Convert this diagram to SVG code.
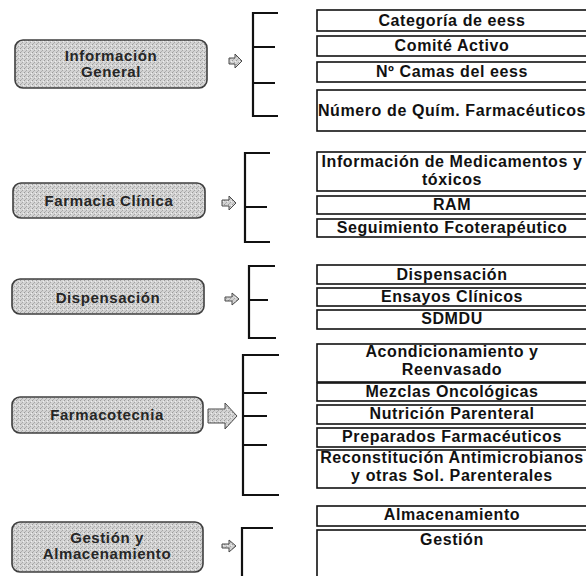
<svg xmlns="http://www.w3.org/2000/svg" width="586" height="576" viewBox="0 0 586 576">
<defs>
<pattern id="stipple" width="4" height="4" patternUnits="userSpaceOnUse">
<rect width="4" height="4" fill="#d3d3d3"/>
<rect x="0" y="0" width="1" height="1" fill="#9a9a9a"/>
<rect x="2" y="2" width="1" height="1" fill="#a6a6a6"/>
<rect x="3" y="1" width="1" height="1" fill="#efefef"/>
<rect x="1" y="3" width="1" height="1" fill="#b0b0b0"/>
</pattern>
</defs>
<style>
.bg{fill:#ffffff}
.node rect{fill:url(#stipple);stroke:#3f3f3f;stroke-width:1.6}
.node text{font-family:"Liberation Sans",Arial,sans-serif;font-weight:bold;font-size:15px;fill:#262626;text-anchor:middle;letter-spacing:0.6px}
.item rect{fill:#ffffff;stroke:#111;stroke-width:1.6}
.item text{font-family:"Liberation Sans",Arial,sans-serif;font-weight:bold;font-size:16px;fill:#111;text-anchor:middle;letter-spacing:0.6px}
.br{fill:none;stroke:#111;stroke-width:2.2}
.arr{fill:url(#stipple);stroke:#4a4a4a;stroke-width:1}
</style>
<rect class="bg" x="0" y="0" width="586" height="576"/>

<g id="n-info" class="node">
<rect x="15" y="40" width="192" height="48" rx="8"/>
<text x="111" y="61">Información</text>
<text x="111" y="77">General</text>
</g>
<g id="n-farmacia" class="node">
<rect x="13" y="183" width="192" height="35" rx="8"/>
<text x="109" y="206">Farmacia Clínica</text>
</g>
<g id="n-dispensacion" class="node">
<rect x="12" y="279" width="192" height="35" rx="8"/>
<text x="108" y="303">Dispensación</text>
</g>
<g id="n-farmacotecnia" class="node">
<rect x="12" y="397" width="191" height="36" rx="8"/>
<text x="107" y="420">Farmacotecnia</text>
</g>
<g id="n-gestion" class="node">
<rect x="12" y="522" width="191" height="50" rx="8"/>
<text x="107" y="543">Gestión y</text>
<text x="107" y="559">Almacenamiento</text>
</g>

<g id="connectors">
<path class="arr" d="M229,58 h6 v-4 l7,7 l-7,7 v-4 h-6 z"/>
<path class="arr" d="M222,200 h7 v-4 l7,7 l-7,7 v-4 h-7 z"/>
<path class="arr" d="M225,297 h7 v-4 l7,6 l-7,6 v-4 h-7 z"/>
<path class="arr" d="M208,409 h17 v-6 l12,13 l-12,13 v-6 h-17 z"/>
<path class="arr" d="M222,544 h7 v-4 l7,6 l-7,6 v-4 h-7 z"/>

<path class="br" d="M278,13 H253 V116 H278 M253,47 H275 M253,83 H275"/>
<path class="br" d="M270,153 H245 V242 H270 M245,207 H267"/>
<path class="br" d="M275,266 H249 V338 H276 M249,300 H268"/>
<path class="br" d="M279,355 H243 V495 H279 M243,393 H267 M243,416 H267 M243,445 H267"/>
<path class="br" d="M273,528 H242 V580"/>
</g>

<g id="i1" class="item"><rect x="317" y="10" width="274" height="21"/><text x="452" y="26">Categoría de eess</text></g>
<g id="i2" class="item"><rect x="317" y="36" width="274" height="20"/><text x="452" y="51">Comité Activo</text></g>
<g id="i3" class="item"><rect x="317" y="62" width="274" height="20"/><text x="452" y="77">Nº Camas del eess</text></g>
<g id="i4" class="item"><rect x="317" y="90" width="274" height="41"/><text x="452" y="116">Número de Quím. Farmacéuticos</text></g>
<g id="i5" class="item"><rect x="317" y="152" width="274" height="39"/><text x="452" y="167">Información de Medicamentos y</text><text x="452" y="185">tóxicos</text></g>
<g id="i6" class="item"><rect x="317" y="196" width="274" height="18"/><text x="452" y="210">RAM</text></g>
<g id="i7" class="item"><rect x="317" y="219" width="274" height="18"/><text x="452" y="233">Seguimiento Fcoterapéutico</text></g>
<g id="i8" class="item"><rect x="317" y="265" width="274" height="19"/><text x="452" y="280">Dispensación</text></g>
<g id="i9" class="item"><rect x="317" y="288" width="274" height="18"/><text x="452" y="302">Ensayos Clínicos</text></g>
<g id="i10" class="item"><rect x="317" y="310" width="274" height="19"/><text x="452" y="324">SDMDU</text></g>
<g id="i11" class="item"><rect x="317" y="344" width="274" height="38"/><text x="452" y="357">Acondicionamiento y</text><text x="452" y="375">Reenvasado</text></g>
<g id="i12" class="item"><rect x="317" y="383" width="274" height="18"/><text x="452" y="397">Mezclas Oncológicas</text></g>
<g id="i13" class="item"><rect x="317" y="405" width="274" height="19"/><text x="452" y="419">Nutrición Parenteral</text></g>
<g id="i14" class="item"><rect x="317" y="428" width="274" height="19"/><text x="452" y="442">Preparados Farmacéuticos</text></g>
<g id="i15" class="item"><rect x="317" y="450" width="274" height="38"/><text x="452" y="463">Reconstitución Antimicrobianos</text><text x="452" y="481">y otras Sol. Parenterales</text></g>
<g id="i16" class="item"><rect x="317" y="506" width="274" height="20"/><text x="452" y="520">Almacenamiento</text></g>
<g id="i17" class="item"><rect x="317" y="530" width="274" height="60"/><text x="452" y="545">Gestión</text></g>
</svg>
